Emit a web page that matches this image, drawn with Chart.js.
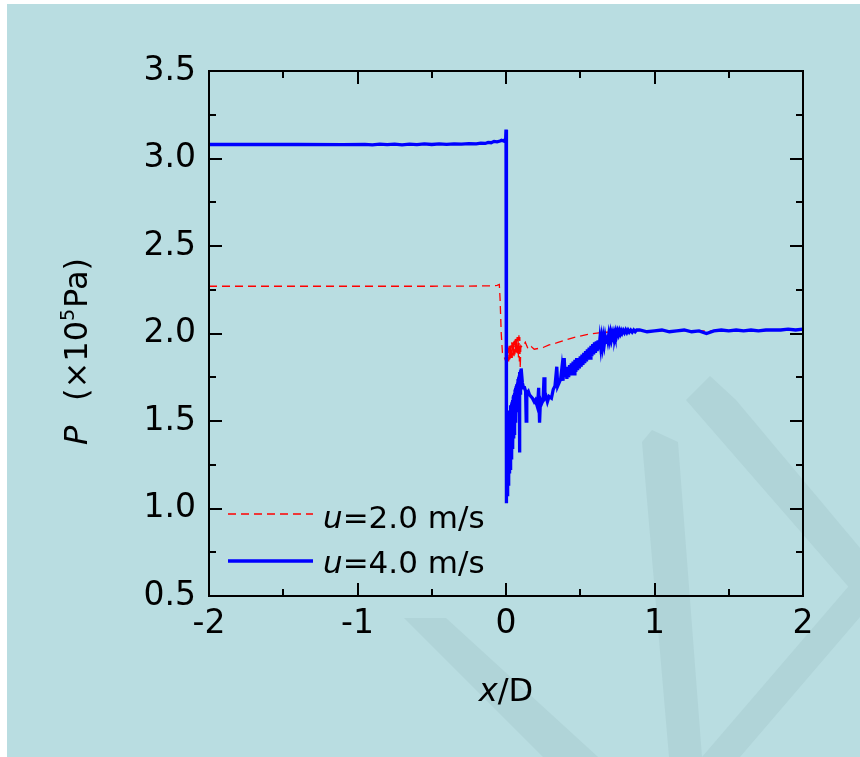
<!DOCTYPE html>
<html><head><meta charset="utf-8">
<script src="https://cdn.jsdelivr.net/npm/chart.js@4.4.1/dist/chart.umd.min.js"></script>
<style>html,body{margin:0;padding:0;background:#fff;}canvas{display:block;}</style>
</head><body>
<canvas id="c" width="860" height="757"></canvas>
<script>
// ---- data ----
const xTickLabels = ['-2', '-1', '0', '1', '2'];
const yTickLabels = ['0.5', '1.0', '1.5', '2.0', '2.5', '3.0', '3.5'];
const seriesNames = ['u=2.0 m/s', 'u=4.0 m/s'];

// u = 2.0 m/s (red dashed)
const xU2 = [-2.0, -1.5, -1.0, -0.5, -0.1, -0.06, -0.045, -0.04, -0.032, -0.024, -0.01, 0.0,
  0.003, 0.006, 0.009, 0.012, 0.015, 0.018, 0.021, 0.024, 0.027, 0.030, 0.033, 0.036, 0.039,
  0.042, 0.045, 0.048, 0.051, 0.054, 0.057, 0.060, 0.063, 0.066, 0.069, 0.072, 0.075, 0.078,
  0.081, 0.084, 0.087, 0.090, 0.093, 0.096, 0.100,
  0.110, 0.13, 0.15, 0.17, 0.19, 0.22, 0.25, 0.29, 0.34, 0.40, 0.47, 0.55, 0.65, 0.76, 0.88,
  1.0, 1.2, 1.5, 1.8, 2.0];
const pU2 = [2.27, 2.27, 2.27, 2.27, 2.272, 2.275, 2.28, 2.20, 2.00, 1.89, 1.86, 1.84,
  1.90, 1.83, 1.91, 1.84, 1.92, 1.84, 1.93, 1.85, 1.93, 1.85, 1.94, 1.86, 1.95,
  1.86, 1.95, 1.87, 1.96, 1.87, 1.96, 1.88, 1.97, 1.88, 1.97, 1.89, 1.98, 1.88,
  1.98, 1.86, 1.99, 1.84, 1.98, 1.80, 1.93,
  1.92, 1.95, 1.91, 1.925, 1.91, 1.915, 1.92, 1.935, 1.946, 1.963, 1.98, 1.995, 2.006, 2.011, 2.017,
  2.015, 2.015, 2.015, 2.018, 2.02];

// u = 4.0 m/s (blue solid)
const xU4 = [-2.0, -1.7, -1.4, -1.1, -0.95, -0.9, -0.85, -0.8, -0.75, -0.7, -0.65, -0.6, -0.55,
  -0.5, -0.45, -0.4, -0.35, -0.3, -0.25, -0.2, -0.17, -0.14, -0.12, -0.10, -0.08, -0.06, -0.04,
  -0.03, -0.015, -0.005, -0.002, 0.0,
  0.001, 0.003, 0.005, 0.007, 0.009, 0.011, 0.013, 0.015, 0.017, 0.019, 0.021, 0.023, 0.025,
  0.027, 0.029, 0.031, 0.033, 0.035, 0.037, 0.039, 0.041, 0.043, 0.045, 0.047, 0.049, 0.051,
  0.053, 0.055, 0.057, 0.059, 0.061, 0.063, 0.065, 0.067, 0.069, 0.071, 0.073, 0.075, 0.077,
  0.079, 0.081, 0.083, 0.085, 0.087, 0.089, 0.091, 0.093, 0.095, 0.097, 0.099, 0.102,
  0.110, 0.118, 0.125, 0.132, 0.136, 0.140, 0.150, 0.158, 0.168, 0.178, 0.190, 0.198, 0.205,
  0.212, 0.220, 0.226, 0.232, 0.240, 0.250, 0.256, 0.262, 0.270, 0.279, 0.290, 0.306, 0.318,
  0.330, 0.342, 0.348, 0.358, 0.368, 0.376, 0.384, 0.392, 0.398,
  0.404, 0.410, 0.416, 0.422, 0.428, 0.434, 0.440, 0.446, 0.452, 0.458, 0.464, 0.470, 0.476,
  0.482, 0.488, 0.494, 0.500, 0.506, 0.512, 0.518, 0.524, 0.530, 0.536, 0.542, 0.548, 0.554,
  0.560, 0.566, 0.572, 0.578, 0.584, 0.590, 0.596, 0.602, 0.608, 0.614, 0.620, 0.626, 0.632,
  0.638, 0.644, 0.650, 0.656, 0.662, 0.668, 0.674, 0.680, 0.686, 0.692, 0.698, 0.704, 0.710,
  0.716, 0.722, 0.728, 0.734, 0.740, 0.746, 0.752, 0.758, 0.764, 0.770, 0.776, 0.782, 0.790,
  0.798, 0.806, 0.814, 0.822, 0.830, 0.840, 0.850, 0.860, 0.870, 0.880,
  0.90, 0.95, 1.0, 1.05, 1.1, 1.15, 1.2, 1.25, 1.3, 1.35, 1.4, 1.45, 1.5, 1.55, 1.6, 1.65, 1.7,
  1.75, 1.8, 1.85, 1.9, 1.95, 2.0];
const pU4 = [3.08, 3.08, 3.08, 3.079, 3.081, 3.078, 3.082, 3.079, 3.082, 3.078, 3.082, 3.079, 3.083,
  3.080, 3.083, 3.081, 3.084, 3.082, 3.085, 3.084, 3.088, 3.086, 3.092, 3.09, 3.098, 3.095, 3.10,
  3.104, 3.10, 3.11, 3.12, 3.165,
  1.60, 1.03, 1.48, 1.08, 1.51, 1.11, 1.52, 1.14, 1.53, 1.17, 1.55, 1.20, 1.56,
  1.23, 1.57, 1.26, 1.59, 1.29, 1.60, 1.31, 1.61, 1.34, 1.62, 1.37, 1.64, 1.40,
  1.65, 1.43, 1.66, 1.46, 1.68, 1.49, 1.69, 1.52, 1.70, 1.55, 1.71, 1.57, 1.72,
  1.60, 1.74, 1.62, 1.75, 1.64, 1.76, 1.32, 1.78, 1.66, 1.79, 1.70, 1.80,
  1.72, 1.69, 1.69, 1.67, 1.50, 1.66, 1.67, 1.65, 1.64, 1.63, 1.61, 1.62, 1.60,
  1.58, 1.69, 1.49, 1.62, 1.60, 1.62, 1.75, 1.63, 1.64, 1.61, 1.64, 1.63, 1.68,
  1.70, 1.81, 1.70, 1.72, 1.74, 1.80, 1.73, 1.86, 1.76,
  1.81, 1.74, 1.81, 1.75, 1.82, 1.76, 1.83, 1.76, 1.84, 1.77, 1.85, 1.78, 1.86,
  1.79, 1.86, 1.80, 1.87, 1.81, 1.88, 1.82, 1.89, 1.83, 1.90, 1.84, 1.91, 1.85,
  1.92, 1.86, 1.93, 1.87, 1.94, 1.88, 1.95, 1.89, 1.955, 1.90, 1.96, 1.91, 1.965,
  1.92, 1.97, 1.93, 1.975, 1.94, 1.98, 1.95, 1.99, 1.96, 1.995, 1.965, 2.0, 1.97,
  2.0, 1.98, 2.005, 1.985, 2.01, 1.99, 2.012, 1.995, 2.015, 2.0, 2.015, 2.002, 2.018,
  2.005, 2.02, 2.006, 2.02, 2.008, 2.02, 2.008, 2.02, 2.01, 2.02,
  2.02, 2.01, 2.015, 2.02, 2.01, 2.015, 2.02, 2.01, 2.015, 2.0, 2.015, 2.02, 2.015, 2.02, 2.015, 2.02, 2.015,
  2.02, 2.02, 2.02, 2.025, 2.02, 2.025];

// ---- build chart ----
const FONT = '"DejaVu Sans", sans-serif';
const toPts = (xs, ys) => xs.map((x, i) => ({x: x, y: ys[i]}));

const watermark = [
  [[404,618],[446,618],[598,757],[543,757]],
  [[642,442],[652,430],[678,442],[702,757],[669,757]],
  [[702,757],[740,757],[860,617],[860,573]],
  [[686,400],[710,376],[736,400],[860,548],[860,600]]
];

const decorPlugin = {
  id: 'decor',
  beforeDraw(chart) {
    const ctx = chart.ctx;
    ctx.save();
    ctx.fillStyle = '#ffffff';
    ctx.fillRect(0, 0, chart.width, chart.height);
    ctx.fillStyle = '#B9DDE1';
    ctx.fillRect(7, 4, chart.width - 7, chart.height - 4);
    ctx.fillStyle = '#B0D4D8';
    watermark.forEach(poly => {
      ctx.beginPath();
      poly.forEach(([x, y], i) => i ? ctx.lineTo(x, y) : ctx.moveTo(x, y));
      ctx.closePath();
      ctx.fill();
    });
    ctx.restore();
  },
  afterDraw(chart) {
    const ctx = chart.ctx;
    const a = chart.chartArea;
    const xs = chart.scales.x, ys = chart.scales.y;
    ctx.save();
    ctx.strokeStyle = '#000';
    ctx.lineWidth = 2;
    ctx.beginPath();
    for (let v = -2; v <= 2.0001; v += 0.5) {
      const p = Math.round(xs.getPixelForValue(v));
      const len = Math.abs(v - Math.round(v)) < 1e-6 ? 13 : 7;
      ctx.moveTo(p, a.bottom); ctx.lineTo(p, a.bottom - len);
      ctx.moveTo(p, a.top); ctx.lineTo(p, a.top + len);
    }
    for (let v = 0.5; v <= 3.5001; v += 0.25) {
      const p = Math.round(ys.getPixelForValue(v));
      const len = Math.abs(v * 2 - Math.round(v * 2)) < 1e-6 ? 13 : 7;
      ctx.moveTo(a.left, p); ctx.lineTo(a.left + len, p);
      ctx.moveTo(a.right, p); ctx.lineTo(a.right - len, p);
    }
    ctx.stroke();
    ctx.strokeRect(a.left, a.top, a.right - a.left, a.bottom - a.top);

    // axis titles
    ctx.fillStyle = '#000';
    ctx.textBaseline = 'alphabetic';
    ctx.textAlign = 'left';
    ctx.font = 'italic 32px ' + FONT;
    const wx = ctx.measureText('x').width;
    ctx.font = '32px ' + FONT;
    const wr = ctx.measureText('/D').width;
    let sx = (a.left + a.right) / 2 - (wx + wr) / 2;
    ctx.font = 'italic 32px ' + FONT;
    ctx.fillText('x', sx, 701);
    ctx.font = '32px ' + FONT;
    ctx.fillText('/D', sx + wx, 701);

    ctx.save();
    ctx.translate(87, 445);
    ctx.rotate(-Math.PI / 2);
    ctx.font = 'italic 32px ' + FONT;
    ctx.fillText('P', 0, 0);
    let s = 44;
    ctx.font = '32px ' + FONT;
    ctx.fillText('(\u00D710', s, 0);
    s += ctx.measureText('(\u00D710').width;
    ctx.font = '19px ' + FONT;
    ctx.fillText('5', s, -13);
    s += ctx.measureText('5').width + 1;
    ctx.font = '32px ' + FONT;
    ctx.fillText('Pa)', s, 0);
    ctx.restore();

    // legend
    const ds = chart.data.datasets;
    const rows = [{y: 514, tb: 528}, {y: 561, tb: 573}];
    ds.forEach((d, i) => {
      ctx.save();
      ctx.strokeStyle = d.borderColor;
      ctx.lineWidth = i === 0 ? 1.3 : 3.5;
      ctx.setLineDash(d.borderDash || []);
      ctx.beginPath();
      ctx.moveTo(228, rows[i].y); ctx.lineTo(313, rows[i].y);
      ctx.stroke();
      ctx.restore();
      const name = seriesNames[i];
      ctx.font = 'italic 31px ' + FONT;
      ctx.fillText(name[0], 323, rows[i].tb);
      const w = ctx.measureText(name[0]).width;
      ctx.font = '31px ' + FONT;
      ctx.fillText(name.slice(1), 323 + w, rows[i].tb);
    });
    ctx.restore();
  }
};

new Chart(document.getElementById('c'), {
  type: 'line',
  data: {
    datasets: [
      {label: seriesNames[0], data: toPts(xU2, pU2), borderColor: '#FF0000', borderWidth: 1.3,
       borderDash: [8, 5], pointRadius: 0, tension: 0, fill: false, order: 1},
      {label: seriesNames[1], data: toPts(xU4, pU4), borderColor: '#0000FF', borderWidth: 3.3,
       pointRadius: 0, tension: 0, fill: false, order: 0}
    ]
  },
  options: {
    responsive: false,
    animation: false,
    devicePixelRatio: 1,
    layout: {padding: {left: 0, top: 71, right: 57, bottom: 0}},
    plugins: {legend: {display: false}, tooltip: {enabled: false}},
    scales: {
      x: {
        type: 'linear', min: -2, max: 2,
        grid: {display: false, drawTicks: false},
        border: {display: false},
        ticks: {stepSize: 1, padding: 9, color: '#000', font: {family: FONT, size: 33},
                maxRotation: 0, callback: (v, i) => xTickLabels[i]},
        afterFit: s => { s.height = 161; }
      },
      y: {
        type: 'linear', min: 0.5, max: 3.5,
        grid: {display: false, drawTicks: false},
        border: {display: false},
        ticks: {stepSize: 0.5, padding: 13, color: '#000', font: {family: FONT, size: 33},
                callback: (v, i) => yTickLabels[i]},
        afterFit: s => { s.width = 209; }
      }
    }
  },
  plugins: [decorPlugin]
});
</script>
</body></html>
